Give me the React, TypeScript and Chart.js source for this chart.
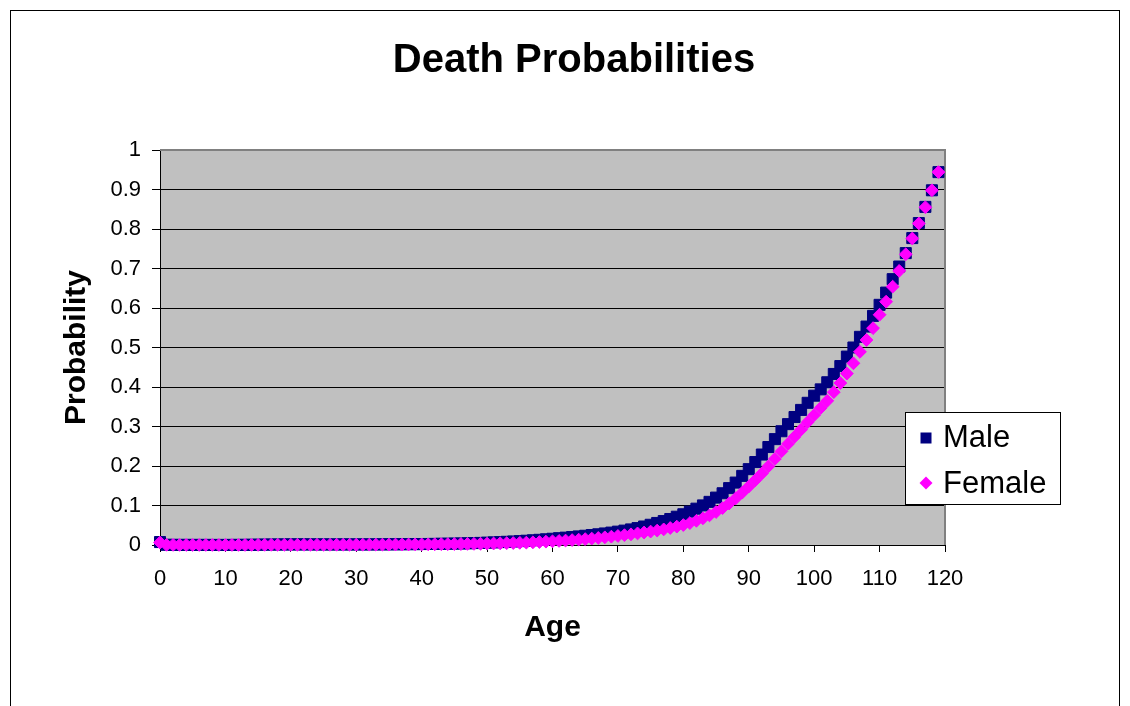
import React, { useEffect, useRef } from 'react';
import { Chart, registerables } from 'chart.js';

Chart.register(...registerables);

const chartTitle = 'Death Probabilities';
const xAxisTitle = 'Age';
const yAxisTitle = 'Probability';
const seriesNames = ['Male', 'Female'];

const ages = [
  0, 1, 2, 3, 4, 5, 6, 7, 8, 9,
  10, 11, 12, 13, 14, 15, 16, 17, 18, 19,
  20, 21, 22, 23, 24, 25, 26, 27, 28, 29,
  30, 31, 32, 33, 34, 35, 36, 37, 38, 39,
  40, 41, 42, 43, 44, 45, 46, 47, 48, 49,
  50, 51, 52, 53, 54, 55, 56, 57, 58, 59,
  60, 61, 62, 63, 64, 65, 66, 67, 68, 69,
  70, 71, 72, 73, 74, 75, 76, 77, 78, 79,
  80, 81, 82, 83, 84, 85, 86, 87, 88, 89,
  90, 91, 92, 93, 94, 95, 96, 97, 98, 99,
  100, 101, 102, 103, 104, 105, 106, 107, 108, 109,
  110, 111, 112, 113, 114, 115, 116, 117, 118, 119,
];

const maleProb = [
  0.0075, 0.0005, 0.00035, 0.0003, 0.00025, 0.0002, 0.0002, 0.0002, 0.00015, 0.00015,
  0.00015, 0.0002, 0.0003, 0.0004, 0.0006, 0.0008, 0.001, 0.0012, 0.0013, 0.0014,
  0.0015, 0.0015, 0.0015, 0.0015, 0.0014, 0.0014, 0.0014, 0.0014, 0.0014, 0.0014,
  0.0014, 0.0014, 0.0015, 0.0015, 0.0016, 0.0017, 0.0018, 0.0019, 0.0021, 0.0022,
  0.0024, 0.0026, 0.0028, 0.0031, 0.0033, 0.0036, 0.0039, 0.0043, 0.0048, 0.0053,
  0.0059, 0.0066, 0.0073, 0.0081, 0.0089, 0.0098, 0.0108, 0.0119, 0.0131, 0.0144,
  0.0158, 0.0172, 0.0186, 0.0201, 0.0217, 0.0234, 0.0252, 0.0271, 0.0292, 0.0314,
  0.0338, 0.0364, 0.0394, 0.0428, 0.0468, 0.0512, 0.0558, 0.0606, 0.0658, 0.0716,
  0.0778, 0.0846, 0.092, 0.1002, 0.1092, 0.12, 0.131, 0.144, 0.158, 0.175,
  0.192, 0.21, 0.229, 0.248, 0.268, 0.288, 0.306, 0.324, 0.342, 0.36,
  0.378, 0.394, 0.412, 0.433, 0.453, 0.477, 0.5, 0.527, 0.553, 0.58,
  0.608, 0.639, 0.673, 0.705, 0.739, 0.777, 0.815, 0.856, 0.898, 0.944,
];

const femaleProb = [
  0.0062, 0.0004, 0.0003, 0.0002, 0.00015, 0.00015, 0.00013, 0.00012, 0.00011, 0.0001,
  0.0001, 0.0001, 0.00013, 0.00017, 0.00024, 0.00032, 0.0004, 0.00046, 0.0005, 0.0005,
  0.0005, 0.0005, 0.0005, 0.0005, 0.0005, 0.0005, 0.00055, 0.00057, 0.0006, 0.00063,
  0.00067, 0.00071, 0.00077, 0.00083, 0.0009, 0.00098, 0.00107, 0.00117, 0.00128, 0.0014,
  0.00153, 0.00167, 0.00181, 0.00197, 0.00213, 0.0023, 0.0025, 0.0027, 0.0029, 0.0032,
  0.0035, 0.0038, 0.0042, 0.0046, 0.005, 0.0055, 0.006, 0.0067, 0.0075, 0.0084,
  0.0093, 0.0103, 0.0113, 0.0124, 0.0136, 0.0149, 0.0163, 0.0178, 0.0194, 0.0211,
  0.0229, 0.0249, 0.027, 0.0293, 0.0316, 0.034, 0.0365, 0.0395, 0.043, 0.0465,
  0.0505, 0.0555, 0.0612, 0.0676, 0.075, 0.0835, 0.0935, 0.105, 0.118, 0.1325,
  0.148, 0.164, 0.181, 0.199, 0.218, 0.237, 0.256, 0.274, 0.292, 0.311,
  0.329, 0.347, 0.365, 0.387, 0.41, 0.434, 0.46, 0.489, 0.519, 0.549,
  0.583, 0.616, 0.654, 0.694, 0.736, 0.776, 0.814, 0.855, 0.898, 0.944,
];

const xTickLabels = ['0', '10', '20', '30', '40', '50', '60', '70', '80', '90', '100', '110', '120'];
const yTickLabels = ['0', '0.1', '0.2', '0.3', '0.4', '0.5', '0.6', '0.7', '0.8', '0.9', '1'];

const FONT = '"Liberation Sans", Arial, Helvetica, sans-serif';
const MALE_COLOR = '#000080';
const FEMALE_COLOR = '#FF00FF';
const PLOT_BG = '#C0C0C0';

const framePlugin = {
  id: 'frameAndPlot',
  beforeDraw(chart: any) {
    const { ctx, chartArea: a } = chart;
    ctx.save();
    ctx.fillStyle = '#ffffff';
    ctx.fillRect(0, 0, chart.width, chart.height);
    ctx.strokeStyle = '#000000';
    ctx.lineWidth = 1;
    ctx.strokeRect(10.5, 10.5, 1109, 730);
    ctx.fillStyle = PLOT_BG;
    ctx.fillRect(a.left, a.top, a.right - a.left, a.bottom - a.top);
    ctx.restore();
  },
  beforeDatasetsDraw(chart: any) {
    const { ctx, chartArea: a } = chart;
    ctx.save();
    ctx.strokeStyle = '#808080';
    ctx.lineWidth = 2;
    ctx.beginPath();
    ctx.moveTo(a.left, a.top);
    ctx.lineTo(a.right, a.top);
    ctx.lineTo(a.right, a.bottom);
    ctx.stroke();
    ctx.restore();
  },
};

const legendPlugin = {
  id: 'floatingLegend',
  afterDraw(chart: any) {
    const { ctx, chartArea: a } = chart;
    const bx = a.right - 40;
    const by = a.top + 262;
    const bw = 155;
    const bh = 92;
    ctx.save();
    ctx.fillStyle = '#ffffff';
    ctx.fillRect(bx, by, bw, bh);
    ctx.strokeStyle = '#000000';
    ctx.lineWidth = 1;
    ctx.strokeRect(bx + 0.5, by + 0.5, bw, bh);

    // Male marker (square)
    const mx = bx + 21;
    const my1 = by + 26;
    ctx.fillStyle = MALE_COLOR;
    ctx.fillRect(mx - 5.5, my1 - 5.5, 11, 11);
    // Female marker (diamond)
    const my2 = by + 71;
    ctx.fillStyle = FEMALE_COLOR;
    ctx.beginPath();
    ctx.moveTo(mx - 6.5, my2);
    ctx.lineTo(mx, my2 - 6.5);
    ctx.lineTo(mx + 6.5, my2);
    ctx.lineTo(mx, my2 + 6.5);
    ctx.closePath();
    ctx.fill();

    ctx.fillStyle = '#000000';
    ctx.font = `31px ${FONT}`;
    ctx.textAlign = 'left';
    ctx.textBaseline = 'middle';
    ctx.fillText(seriesNames[0], bx + 38, my1);
    ctx.fillText(seriesNames[1], bx + 38, my2 + 1);
    ctx.restore();
  },
};

export default function App() {
  const ref = useRef<HTMLCanvasElement>(null);

  useEffect(() => {
    if (!ref.current) return;
    const chart = new Chart(ref.current, {
      type: 'scatter',
      data: {
        datasets: [
          {
            label: seriesNames[1],
            data: ages.map((a, i) => ({ x: a, y: femaleProb[i] })),
            pointStyle: 'rectRot',
            pointRadius: 6.4,
            backgroundColor: FEMALE_COLOR,
            borderColor: FEMALE_COLOR,
            borderWidth: 1,
            order: 0,
            clip: false,
          } as any,
          {
            label: seriesNames[0],
            data: ages.map((a, i) => ({ x: a, y: maleProb[i] })),
            pointStyle: 'rect',
            pointRadius: 7.8,
            backgroundColor: MALE_COLOR,
            borderColor: MALE_COLOR,
            borderWidth: 1,
            order: 1,
            clip: false,
          } as any,
        ],
      },
      options: {
        responsive: false,
        animation: false,
        devicePixelRatio: 1,
        layout: { padding: { left: 18, right: 0, top: 0, bottom: 0 } },
        plugins: {
          legend: { display: false },
          tooltip: { enabled: false },
          title: {
            display: true,
            text: chartTitle,
            color: '#000000',
            font: { family: FONT, size: 40, weight: 'bold' },
            padding: { top: 37, bottom: 65 },
          },
        },
        scales: {
          x: {
            type: 'linear',
            position: 'bottom',
            min: 0,
            max: 120,
            ticks: {
              stepSize: 10,
              color: '#000000',
              font: { family: FONT, size: 22 },
              padding: 14,
              maxRotation: 0,
              autoSkip: false,
              callback: (_v: any, i: number) => xTickLabels[i],
            },
            grid: { display: true, drawOnChartArea: false, drawTicks: true, tickLength: 7, color: '#000000' },
            border: { display: true, color: '#000000', width: 1 },
            title: {
              display: true,
              text: xAxisTitle,
              color: '#000000',
              font: { family: FONT, size: 30, weight: 'bold' },
              padding: { top: 0, bottom: 60 },
            },
            afterFit: (s: any) => {
              s.height = 161;
            },
          },
          y: {
            type: 'linear',
            position: 'left',
            min: 0,
            max: 1,
            ticks: {
              stepSize: 0.1,
              color: '#000000',
              font: { family: FONT, size: 22 },
              padding: 11,
              callback: (_v: any, i: number) => yTickLabels[i],
            },
            grid: { display: true, drawOnChartArea: true, drawTicks: true, tickLength: 8, color: '#000000' },
            border: { display: true, color: '#000000', width: 1 },
            title: {
              display: true,
              text: yAxisTitle,
              color: '#000000',
              font: { family: FONT, size: 30, weight: 'bold' },
              padding: { top: 41, bottom: 0 },
            },
            afterFit: (s: any) => {
              s.width = 142;
            },
          },
          yRight: {
            type: 'linear',
            position: 'right',
            display: true,
            min: 0,
            max: 1,
            ticks: { display: false },
            grid: { display: false, drawTicks: false },
            border: { display: false },
            afterFit: (s: any) => {
              s.width = 185;
            },
          },
        },
      } as any,
      plugins: [framePlugin, legendPlugin],
    });
    return () => chart.destroy();
  }, []);

  return (
    <div style={{ position: 'absolute', left: 0, top: 0, width: 1130, height: 706 }}>
      <canvas ref={ref} width={1130} height={706} style={{ display: 'block', width: 1130, height: 706 }} />
    </div>
  );
}
